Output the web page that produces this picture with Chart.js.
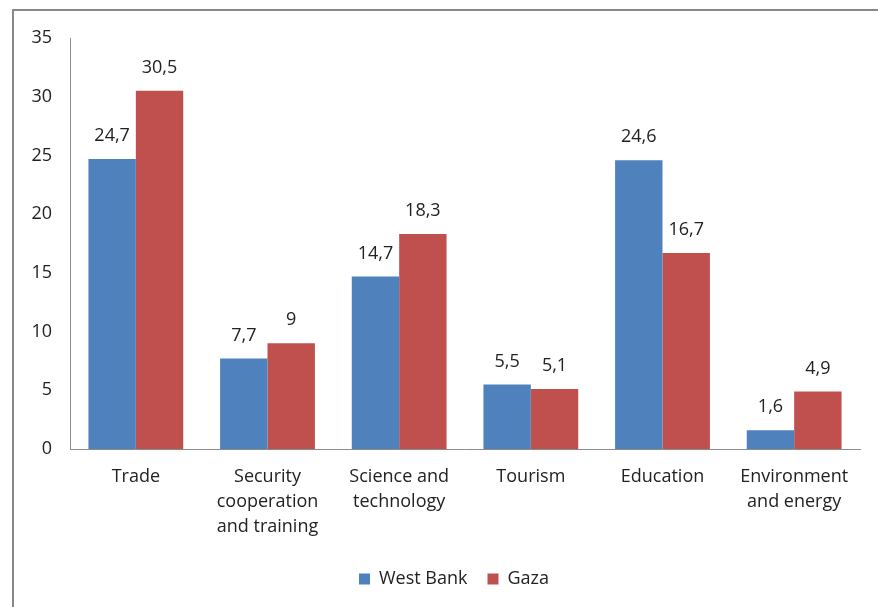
<!DOCTYPE html>
<html>
<head>
<meta charset="utf-8">
<script src="https://cdn.jsdelivr.net/npm/chart.js@4.4.0/dist/chart.umd.min.js"></script>
<style>
  html, body { margin: 0; padding: 0; background: #fff; }
  #wrap { position: relative; width: 878px; height: 607px; }
</style>
</head>
<body>
<div id="wrap"><canvas id="chart"></canvas></div>
<script>
// data
const categories = ["Trade", ["Security", "cooperation", "and training"], ["Science and", "technology"], "Tourism", "Education", ["Environment", "and energy"]];
const westBank = [24.7, 7.7, 14.7, 5.5, 24.6, 1.6];
const gaza = [30.5, 9, 18.3, 5.1, 16.7, 4.9];
const yTicks = [0, 5, 10, 15, 20, 25, 30, 35];

const FONT = "'Open Sans', sans-serif";
const TEXT = '#222';

// gray frame like the office chart border
const framePlugin = {
  id: 'frame',
  beforeDraw(chart) {
    const ctx = chart.ctx;
    ctx.save();
    ctx.strokeStyle = '#888';
    ctx.lineWidth = 2;
    ctx.beginPath();
    ctx.moveTo(13, 700);
    ctx.lineTo(13, 10);
    ctx.lineTo(900, 10);
    ctx.stroke();
    ctx.restore();
  }
};

// legend sits a bit right of the canvas centre in the original
const legendShift = {
  id: 'legendShift',
  afterLayout(chart) {
    if (chart.legend) {
      chart.legend.left += 17;
      chart.legend.right += 17;
    }
  }
};

// value labels above bars, comma decimal
const valueLabels = {
  id: 'valueLabels',
  afterDatasetsDraw(chart) {
    const ctx = chart.ctx;
    ctx.save();
    ctx.font = '18px ' + FONT;
    ctx.fillStyle = TEXT;
    ctx.textAlign = 'center';
    ctx.textBaseline = 'middle';
    chart.data.datasets.forEach((ds, i) => {
      chart.getDatasetMeta(i).data.forEach((bar, j) => {
        const txt = String(ds.data[j]).replace('.', ',');
        ctx.fillText(txt, bar.x, bar.y - 23);
      });
    });
    ctx.restore();
  }
};

new Chart(document.getElementById('chart'), {
  type: 'bar',
  data: {
    labels: categories,
    datasets: [
      { label: 'West Bank', data: westBank, backgroundColor: '#4F81BD' },
      { label: 'Gaza', data: gaza, backgroundColor: '#C0504D' }
    ]
  },
  options: {
    responsive: true,
    maintainAspectRatio: false,
    animation: false,
    categoryPercentage: 0.72,
    barPercentage: 1.0,
    layout: { padding: { left: 14, right: 18, top: 38, bottom: 9 } },
    plugins: {
      tooltip: { enabled: false },
      legend: {
        position: 'bottom',
        labels: {
          boxWidth: 11,
          boxHeight: 11,
          padding: 20,
          color: TEXT,
          font: { family: FONT, size: 18 }
        }
      }
    },
    scales: {
      x: {
        grid: { display: false },
        border: { display: true, color: '#8c8c8c', width: 1 },
        ticks: {
          color: TEXT,
          padding: 8,
          maxRotation: 0,
          autoSkip: false,
          font: { family: FONT, size: 18, lineHeight: 1.37 }
        },
        afterFit(scale) { scale.height = 101; }
      },
      y: {
        min: 0,
        max: 35,
        grid: { display: false },
        border: { display: true, color: '#8c8c8c', width: 1 },
        afterBuildTicks(scale) { scale.ticks = yTicks.map(v => ({ value: v })); },
        ticks: {
          color: TEXT,
          padding: 10,
          font: { family: FONT, size: 18 }
        },
        afterFit(scale) { scale.width = 56; }
      }
    }
  },
  plugins: [framePlugin, legendShift, valueLabels]
});
</script>
</body>
</html>
